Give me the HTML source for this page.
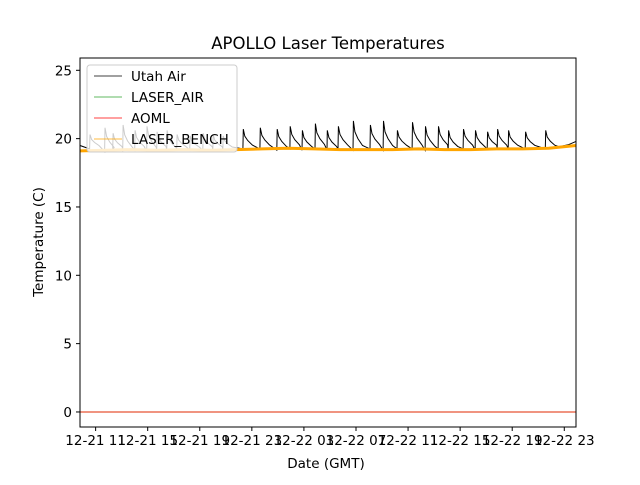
<!DOCTYPE html>
<html><head><meta charset="utf-8">
<style>
html,body{margin:0;padding:0;background:#fff;}
svg text{font-family:"DejaVu Sans","Liberation Sans",sans-serif;fill:#000;}
</style></head>
<body>
<svg id="chart" width="640" height="480" xmlns="http://www.w3.org/2000/svg">
  <rect x="0" y="0" width="640" height="480" fill="#fff"/>
  <text x="328" y="49" font-size="16.5" text-anchor="middle">APOLLO Laser Temperatures</text>
  <g id="plot"></g>
  <g id="axes"></g>
  <text x="326" y="468" font-size="13.5" text-anchor="middle">Date (GMT)</text>
  <text transform="translate(43,242) rotate(-90)" font-size="13.5" text-anchor="middle">Temperature (C)</text>
</svg>
<script>
// ---- data (hours since 12-21 00:00 GMT) ----
const spikeTimes = [10.57,11.72,12.34,13.11,14.03,14.95,15.72,16.49,17.26,18.26,19.26,20.03,20.80,22.34,23.65,24.95,25.95,26.88,27.88,28.80,29.65,30.80,32.11,33.11,34.18,35.34,36.34,37.34,38.11,39.26,40.18,41.11,41.88,42.72,44.03,45.57];
const spikePeaks = [20.3,20.8,20.4,21.0,20.6,20.9,20.5,20.6,20.3,20.2,20.4,20.3,20.2,20.7,20.8,20.7,20.9,20.6,21.1,20.6,20.9,21.3,21.0,21.3,20.6,21.2,20.9,20.9,20.6,20.7,20.6,20.5,20.7,20.6,20.5,20.6];
const spikeBase = [19.4,19.2,19.3,19.2,19.3,19.2,19.3,19.2,19.3,19.3,19.3,19.3,19.3,19.4,19.4,19.3,19.4,19.3,19.4,19.3,19.4,19.3,19.4,19.3,19.4,19.4,19.3,19.4,19.3,19.4,19.3,19.4,19.4,19.4,19.4,19.4];
const benchTimes = [9.8,11.8,13.8,15.8,17.8,19.8,21.8,23.8,25.8,27.8,29.8,31.8,33.8,35.8,37.8,39.8,41.8,43.8,45.8,47.9];
const benchValues = [19.1,19.15,19.2,19.15,19.2,19.15,19.2,19.25,19.3,19.25,19.2,19.2,19.2,19.25,19.2,19.2,19.25,19.25,19.3,19.5];
const aomlTimes = [9.8,47.9];
const aomlValues = [0,0];
const yTicks = [0,5,10,15,20,25];
const xTickHours = [11,15,19,23,27,31,35,39,43,47];
const xTickLabels = ["12-21 11","12-21 15","12-21 19","12-21 23","12-22 03","12-22 07","12-22 11","12-22 15","12-22 19","12-22 23"];

// ---- scales ----
const L=80,R=576,T=58,B=427;
const xMin=9.8,xMax=47.9,yMin=-1.1,yMax=25.9;
const xs=h=>L+(h-xMin)/(xMax-xMin)*(R-L);
const ys=v=>B-(v-yMin)/(yMax-yMin)*(B-T);
const NS="http://www.w3.org/2000/svg";
const plot=document.getElementById('plot'), axes=document.getElementById('axes');
function mk(tag,attrs,parent){const e=document.createElementNS(NS,tag);for(const k in attrs)e.setAttribute(k,attrs[k]);parent.appendChild(e);return e;}

// Utah Air points
const utah=[[xMin,19.5]];
for(let i=0;i<spikeTimes.length;i++){
  const t=spikeTimes[i],p=spikePeaks[i],b=spikeBase[i];
  utah.push([t-0.03,b-0.15],[t,p],[t+0.12,b+(p-b)*0.6],[t+0.35,b+(p-b)*0.35],[t+0.7,b+(p-b)*0.1]);
}
utah.push([46.6,19.4],[47.3,19.55],[47.9,19.8]);

const ul=mk('polyline',{points:utah.map(p=>xs(p[0]).toFixed(1)+','+ys(p[1]).toFixed(1)).join(' '),fill:'none',stroke:'#000','stroke-width':1},plot);


const bench=mk('polyline',{points:benchTimes.map((t,i)=>xs(t)+','+ys(benchValues[i])).join(' '),fill:'none',stroke:'orange','stroke-width':3},plot);


const al=mk('polyline',{points:aomlTimes.map((t,i)=>xs(t)+','+ys(aomlValues[i])).join(' '),fill:'none',stroke:'#e02a00','stroke-width':1},plot);



// frame
const fr=mk('rect',{x:L,y:T,width:R-L,height:B-T,fill:'none',stroke:'#000','stroke-width':1},axes);


yTicks.forEach(v=>{
  const y=ys(v);
  const tk=mk('line',{x1:L-4,x2:L,y1:y,y2:y,stroke:'#000'},axes);
  
  
  const tx=mk('text',{x:L-8,y:y+5,'font-size':13.5,'text-anchor':'end'},axes);
  tx.textContent=v;
  
  
});
xTickHours.forEach((h,i)=>{
  const x=xs(h);
  const tk=mk('line',{x1:x,x2:x,y1:B,y2:B+4,stroke:'#000'},axes);
  
  
  const tx=mk('text',{x:x,y:B+18,'font-size':13.5,'text-anchor':'middle'},axes);
  tx.textContent=xTickLabels[i];
  
  
});

// legend
const lg=mk('g',{},axes);


const lb=mk('rect',{x:87,y:65,width:150,height:87,rx:3,fill:'#fff','fill-opacity':0.8,stroke:'#ccc'},lg);


const legNames=["Utah Air","LASER_AIR","AOML","LASER_BENCH"];
const legColors=["#000","#2ca02c","red","orange"];
legNames.forEach((n,i)=>{
  const y=76+i*21;
  const ln=mk('line',{x1:94,x2:122,y1:y,y2:y,stroke:legColors[i],'stroke-width':0.8},lg);
  
  
  const tx=mk('text',{x:131,y:y+5,'font-size':13.5},lg);
  tx.textContent=n;
  
  
});
</script>
</body></html>
